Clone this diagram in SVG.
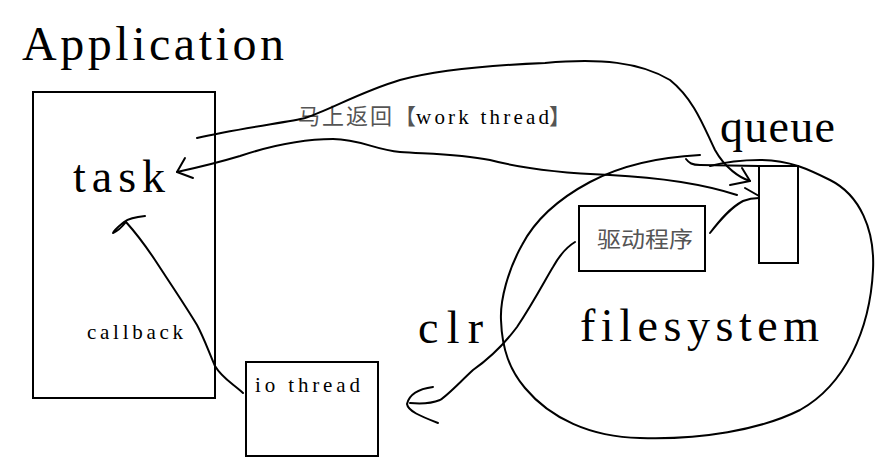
<svg xmlns="http://www.w3.org/2000/svg" width="886" height="472" viewBox="0 0 886 472">
<style>
.box{fill:none;stroke:#000;stroke-width:2}
.ln{fill:none;stroke:#000;stroke-width:2;stroke-linecap:round;stroke-linejoin:round}
.big{font-family:"Liberation Serif",serif;font-size:48px;fill:#000}
.mid{font-family:"Liberation Serif",serif;font-size:46px;fill:#000}
.sm{font-family:"Liberation Serif",serif;font-size:21px;fill:#000}
.cjk{font-family:"Noto Sans CJK SC",sans-serif;font-size:22px;fill:#555}
</style>
<rect width="886" height="472" fill="#fff"/>
<g id="application">
<text class="big" x="22" y="60" textLength="262" lengthAdjust="spacing">Application</text>
<rect class="box" x="33" y="92" width="182" height="306"/>
</g>
<g id="task">
<text class="mid" x="73" y="192" textLength="92" lengthAdjust="spacing">task</text>
</g>
<g id="callback">
<text class="sm" x="87" y="339" textLength="96" lengthAdjust="spacing">callback</text>
</g>
<g id="io-thread">
<rect class="box" x="246" y="362" width="132" height="94"/>
<text class="sm" x="255" y="392" textLength="105" lengthAdjust="spacing">io thread</text>
</g>
<g id="filesystem">
<path class="ln" d="M700,155 C660,157 620,166 590,182 C560,198 535,220 522,245 C508,270 500,300 501,320 C502,350 510,370 525,388 C550,418 590,437 640,438 C700,440 760,430 800,410 C845,385 870,330 873,270 C875,230 860,195 830,180 C810,170 790,160 760,160 C740,160 725,162 710,166"/>
<text class="mid" x="580" y="341" textLength="239" lengthAdjust="spacing">filesystem</text>
</g>
<g id="queue">
<text class="mid" x="720" y="142" textLength="115" lengthAdjust="spacing">queue</text>
<rect class="box" x="759" y="166" width="39" height="97"/>
</g>
<g id="driver">
<rect class="box" x="579" y="206" width="126" height="65"/>
<text class="cjk" x="597" y="247" font-size="23" textLength="96" lengthAdjust="spacingAndGlyphs">驱动程序</text>
</g>
<g id="clr">
<text class="mid" x="418" y="343" textLength="65" lengthAdjust="spacing">clr</text>
</g>
<g id="work-label">
<text class="cjk" x="298" y="124" textLength="94" lengthAdjust="spacing">马上返回</text>
<text class="cjk" x="394" y="124" fill="#000">【</text>
<text class="sm" x="416" y="124" textLength="133" lengthAdjust="spacing">work thread</text>
<text class="cjk" x="549" y="124" fill="#000">】</text>
</g>
<g id="connectors">
<path class="ln" d="M197,138 C240,128 290,122 305,118 C330,110 360,92 400,80 C430,72 470,66 545,63 C600,58 640,62 670,80 C695,100 705,130 715,150 C725,168 740,178 750,181"/>
<path class="ln" d="M742,168 L750,181 L730,185"/>
<path class="ln" d="M177,172 C200,167 220,162 240,156 C270,146 300,139 333,139 C360,139 375,150 400,152 C430,154 460,154 490,160 C520,168 560,173 610,175 C650,177 700,183 737,195"/>
<path class="ln" d="M185,158 L177,172 L193,178"/>
<path class="ln" d="M243,393 C232,383 222,378 215,366 C208,350 204,338 197,325 C185,305 170,283 155,260 C145,245 135,232 126,222"/>
<path class="ln" d="M145,216 C135,217 128,219 124,222 C118,227 114,230 113,233 C118,231 122,227 126,222"/>
<path class="ln" d="M710,233 C720,220 730,208 743,201 C748,199 754,198 759,198"/>
<path class="ln" d="M745,188 L759,196"/>
<path class="ln" d="M686,159 C689,163 692,165 700,165 L759,166"/>
<path class="ln" d="M575,242 C565,248 558,258 553,267 C545,280 535,300 517,327 C505,343 490,358 473,370 C460,382 448,395 440,400 C430,404 420,404 410,403"/>
<path class="ln" d="M433,387 C418,389 409,395 407,404 C408,411 420,416 438,423"/>
</g>
</svg>
